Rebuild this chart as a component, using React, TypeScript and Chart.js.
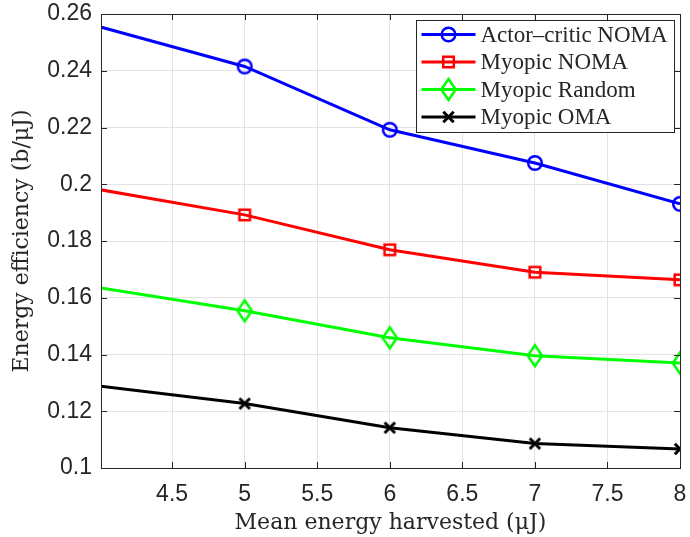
import React, { useEffect, useRef } from 'react';
import { Chart, registerables } from 'chart.js';

Chart.register(...registerables);

// ---- data ----
const xValues = [4, 5, 6, 7, 8];
const actorCriticNoma = [0.2555, 0.2415, 0.2192, 0.2075, 0.1931];
const myopicNoma = [0.1981, 0.1892, 0.1769, 0.169, 0.1663];
const myopicRandom = [0.1635, 0.1554, 0.1459, 0.1396, 0.137];
const myopicOma = [0.1289, 0.1227, 0.1142, 0.1086, 0.1067];
const seriesNames = ['Actor–critic NOMA', 'Myopic NOMA', 'Myopic Random', 'Myopic OMA'];
const xTicks = [4.5, 5, 5.5, 6, 6.5, 7, 7.5, 8];
const yTicks = [0.1, 0.12, 0.14, 0.16, 0.18, 0.2, 0.22, 0.24, 0.26];
const xTitle = 'Mean energy harvested (μJ)';
const yTitle = 'Energy efficiency (b/μJ)';

const colors = ['#0000ff', '#ff0000', '#00ff00', '#000000'];
const markers = ['circle', 'square', 'diamond', 'cross'];
const seriesValues = [actorCriticNoma, myopicNoma, myopicRandom, myopicOma];

const TEXT = '#262626';

function drawMarker(ctx: CanvasRenderingContext2D, kind: string, x: number, y: number, color: string) {
  ctx.save();
  ctx.strokeStyle = color;
  ctx.lineWidth = 2.5;
  ctx.lineJoin = 'miter';
  ctx.beginPath();
  if (kind === 'circle') {
    ctx.arc(x, y, 6.8, 0, Math.PI * 2);
  } else if (kind === 'square') {
    ctx.rect(x - 5.3, y - 5.3, 10.6, 10.6);
  } else if (kind === 'diamond') {
    ctx.moveTo(x, y - 10.5);
    ctx.lineTo(x + 7.2, y);
    ctx.lineTo(x, y + 10.5);
    ctx.lineTo(x - 7.2, y);
    ctx.closePath();
  } else {
    ctx.lineWidth = 3;
    ctx.moveTo(x - 5.2, y - 5.2);
    ctx.lineTo(x + 5.2, y + 5.2);
    ctx.moveTo(x + 5.2, y - 5.2);
    ctx.lineTo(x - 5.2, y + 5.2);
  }
  ctx.stroke();
  ctx.restore();
}

function makeMarkerCanvas(kind: string, color: string) {
  const c = document.createElement('canvas');
  c.width = 28;
  c.height = 28;
  const ctx = c.getContext('2d')!;
  drawMarker(ctx, kind, 14, 14, color);
  return c;
}

const decorPlugin = {
  id: 'decor',
  afterDatasetsDraw(chart: any) {
    const { ctx, chartArea } = chart;
    const { left, right, top, bottom } = chartArea;
    const xs = chart.scales.x;
    const ys = chart.scales.y;
    ctx.save();
    // inner ticks
    ctx.strokeStyle = TEXT;
    ctx.lineWidth = 1;
    ctx.beginPath();
    xTicks.forEach((v) => {
      const px = Math.round(xs.getPixelForValue(v)) + 0.5;
      ctx.moveTo(px, bottom);
      ctx.lineTo(px, bottom - 6);
      ctx.moveTo(px, top);
      ctx.lineTo(px, top + 6);
    });
    yTicks.forEach((v) => {
      const py = Math.round(ys.getPixelForValue(v)) + 0.5;
      ctx.moveTo(left, py);
      ctx.lineTo(left + 6, py);
      ctx.moveTo(right, py);
      ctx.lineTo(right - 6, py);
    });
    ctx.stroke();
    // box
    ctx.strokeRect(Math.round(left) + 0.5, Math.round(top) + 0.5, Math.round(right - left), Math.round(bottom - top));

    // legend
    const bw = 258;
    const bh = 112;
    const bx = Math.round(right - 6 - bw) + 0.5;
    const by = Math.round(top + 6) + 0.5;
    ctx.fillStyle = '#ffffff';
    ctx.fillRect(bx, by, bw, bh);
    ctx.strokeStyle = TEXT;
    ctx.lineWidth = 1;
    ctx.strokeRect(bx, by, bw, bh);
    ctx.font = '23px "Liberation Serif"';
    ctx.textBaseline = 'middle';
    ctx.textAlign = 'left';
    seriesNames.forEach((name, i) => {
      const ry = by + 14 + i * 27.5;
      ctx.strokeStyle = colors[i];
      ctx.lineWidth = 3;
      ctx.beginPath();
      ctx.moveTo(bx + 5, ry);
      ctx.lineTo(bx + 59, ry);
      ctx.stroke();
      drawMarker(ctx, markers[i], bx + 32, ry, colors[i]);
      ctx.fillStyle = TEXT;
      ctx.fillText(name, bx + 64, ry + 1);
    });
    ctx.restore();
  },
};

export default function App() {
  const ref = useRef<HTMLCanvasElement | null>(null);

  useEffect(() => {
    const canvas = ref.current;
    if (!canvas) return;
    const datasets = seriesValues.map((vals, i) => {
      const img = makeMarkerCanvas(markers[i], colors[i]);
      return {
        label: seriesNames[i],
        data: xValues.map((x, j) => ({ x, y: vals[j] })),
        borderColor: colors[i],
        backgroundColor: colors[i],
        borderWidth: 3,
        pointStyle: img,
        pointRadius: xValues.map((_, j) => (j === 0 ? 0 : 7)),
        pointHoverRadius: 7,
        tension: 0,
        clip: 0,
      };
    });

    const chart = new Chart(canvas, {
      type: 'line',
      data: { datasets } as any,
      plugins: [decorPlugin],
      options: {
        animation: false,
        responsive: false,
        maintainAspectRatio: false,
        events: [],
        layout: { padding: { top: 14, right: 3, left: 0, bottom: 0 } },
        plugins: {
          legend: { display: false },
          tooltip: { enabled: false },
        },
        scales: {
          x: {
            type: 'linear',
            min: 4.01,
            max: 8,
            afterBuildTicks: (s: any) => {
              s.ticks = xTicks.map((v) => ({ value: v }));
            },
            afterFit: (s: any) => {
              s.height = 69;
              s.paddingLeft = 0;
              s.paddingRight = 0;
            },
            grid: { color: '#e3e3e3', lineWidth: 1, drawTicks: false },
            border: { display: false },
            ticks: {
              autoSkip: false,
              maxRotation: 0,
              padding: 13,
              color: TEXT,
              font: { family: '"Liberation Sans", Arial, sans-serif', size: 23 },
              callback: (v: any) => String(v),
            },
            title: {
              display: true,
              text: xTitle,
              color: TEXT,
              font: { family: '"DejaVu Serif", serif', size: 22 },
              padding: { top: 0, bottom: 1 },
            },
          },
          y: {
            type: 'linear',
            min: 0.1,
            max: 0.26,
            afterBuildTicks: (s: any) => {
              s.ticks = yTicks.map((v) => ({ value: v }));
            },
            afterFit: (s: any) => {
              s.width = 101;
              s.paddingTop = 0;
              s.paddingBottom = 0;
            },
            grid: { color: '#e3e3e3', lineWidth: 1, drawTicks: false },
            border: { display: false },
            ticks: {
              autoSkip: false,
              padding: 9,
              color: TEXT,
              font: { family: '"Liberation Sans", Arial, sans-serif', size: 23 },
              callback: (v: any) => String(v),
            },
            title: {
              display: true,
              text: yTitle,
              color: TEXT,
              font: { family: '"DejaVu Serif", serif', size: 22 },
              padding: { top: 9, bottom: 0 },
            },
          },
        },
      } as any,
    });
    return () => chart.destroy();
  }, []);

  return (
    <div style={{ position: 'absolute', left: 0, top: 0, width: 690, height: 537, background: '#ffffff' }}>
      <canvas ref={ref} width={690} height={537} style={{ display: 'block', width: 690, height: 537 }} />
    </div>
  );
}
